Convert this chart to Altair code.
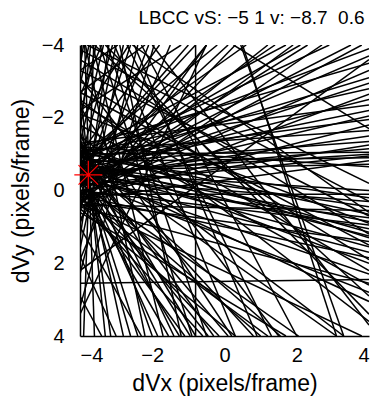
import altair as alt
import pandas as pd

# ---- Group A: lines from the left edge (x=-4) to the right edge (x=4) ----
A_left_y = [-0.9, -0.3, -1.2, 0.1, -0.7, -0.4, -1.0, 0.3, -0.5, -1.3, -0.6, -0.2,
            -0.9, 0.2, -1.1, -0.35, -0.75, 0.0, -0.45, -1.0, -0.5, -0.15, -0.8, 0.25,
            -0.55, -1.2, -0.5, 0.1, -0.9, -0.3, -0.7, 0.4, -1.05, -0.2, -0.65, 0.0,
            -0.5, -1.1, -0.8, 0.3, -0.6, -0.35, 0.15, -0.95, -0.4, 0.45, -0.3, -0.6]
A_right_y = [-3.9, -3.7, -3.5, -3.3, -3.1, -2.95, -2.8, -2.65, -2.5, -2.35, -2.2, -2.05,
             -1.95, -1.8, -1.65, -1.5, -1.35, -1.25, -1.15, -1.05, -1.0, -0.95, -0.9, -0.82,
             -0.72, -0.65, 0.0, 0.1, 0.2, 0.3, 0.45, 0.55, 0.65, 0.75, 0.85, 0.95,
             1.05, 1.15, 1.25, 1.4, 1.55, 1.7, 1.85, 2.0, 2.3, 2.55, 2.8, 3.05]

# ---- Group B: from the left edge up to the top edge (y=-4) ----
B_left_y = [-0.6, 0.2, -0.9, -0.27, 0.4, -0.75, 0.1, -0.38, -1.0, 0.3, -0.55,
            -0.10, 0.5, -0.8, -0.2, 0.15]
B_top_x = [-0.8, -0.5, -0.2, 0.1, 0.3, 0.6, 1.2, 1.4, 1.7, 1.9, 2.1, 2.3, 2.7, 2.9, 3.5, 3.8]

# ---- Group C: from the left/top edge down to the bottom edge (y=4) ----
C_start_x = [-3.62, -3.87] + [-4] * 27
C_start_y = [-4, -4, -2.84, -2.1, -1.43, -0.9, -0.98, -1.6, -0.7, -0.2, -1.4, -0.5,
             0.1, -0.9, -1.3, 0.3, -0.4, -1.1, 0.0, -0.79, 0.5, -1.2, -0.3, 0.2,
             -0.83, 0.6, -0.2, -1.0, 0.35]
C_bottom_x = [-3.9, -3.6, -3.3, -3.15, -2.8, -2.6, -2.4, -2.0, -1.85, -1.55, -1.4, -1.25,
              -1.1, -0.95, -0.8, -0.6, -0.45, -0.3, -0.15, 0.1, 0.3, 0.8, 1.0, 1.2, 1.55,
              1.7, 2.05, 3.1, 3.8]

# ---- Group D: other lines, given by both end points ----
D_x1 = [-3.9, -3.75, -3.55, -3.35, -3.2, -3.0, -2.8, -2.6, -2.4, -2.1, -1.95, -1.5,
        -3.85, -3.65, -3.45, -3.25, -3.05, -2.9, -2.7, -2.5, -2.3,
        -4, -4, -4, -4, -4, -4, -4, -4, -4, -4, -4, -4,
        -0.8, -4, 0.5, 0.45, 0.25, -4, -4, -4, -4, -4, -4,
        -3.95, -3.7, -3.4, -3.1, -2.95, -2.65, -2.2, -1.8, -1.2, -3.6, -3.3, -2.0,
        -1.0, -0.5, -3.8, -2.55]
D_y1 = [-4, -4, -4, -4, -4, -4, -4, -4, -4, -4, -4, -4,
        -4, -4, -4, -4, -4, -4, -4, -4, -4,
        -3.87, -3.6, -3.3, -3.0, -2.7, -2.4, -2.1, -1.8, -1.5, -1.2, -3.1, -2.3,
        -4, 2.55, -4, -4, -4, 1.0, 1.8, 2.9, 2.2, -2.5, 3.4,
        -4, -4, -4, -4, -4, -4, -4, -4, -4, -4, -4, -4,
        -4, -4, -4, -4]
D_x2 = [-4, -4, -4, -4, -4, -4, -4, -4, -4, -4, -4, -4,
        -2.2, -1.7, -0.9, -0.5, 0.3, -1.2, 1.3, 0.9, 2.0,
        4, 4, 4, 4, 4, 4, 4, 4, 3.3, 4, 1.5, 0.2,
        -0.8, 4, 3.1, 3.3, 4, -2.3, -3.0, -3.4, 4, 4, -0.5,
        -4, -4, -4, -4, -4, -4, -4, -4, -4, 4, 4, 4,
        -4, -4, 4, 4]
D_y2 = [-3.4, -2.9, -2.0, -1.3, 1.3, 0.6, 1.6, 0.2, 2.3, 0.9, 3.2, 1.9,
        4, 4, 4, 4, 4, 4, 4, 4, 4,
        0.3, 1.2, 0.7, 1.9, 1.5, 2.2, 0.9, 2.6, 4, 1.3, 4, 4,
        4, 2.45, 4, 4, -1.7, 4, 4, 4, -3.6, 3.6, -4,
        -3.0, -1.6, -2.6, -0.8, -3.3, -1.9, -2.7, -1.0, -2.2, 2.9, 3.4, 3.7,
        -0.6, 0.8, -0.2, 0.6]

# star marker (estimated solution)
star_x = [-3.77]
star_y = [-0.43]

x1 = [-4] * len(A_left_y) + [-4] * len(B_left_y) + C_start_x + D_x1
y1 = A_left_y + B_left_y + C_start_y + D_y1
x2 = [4] * len(A_right_y) + B_top_x + C_bottom_x + D_x2
y2 = A_right_y + [-4] * len(B_top_x) + [4] * len(C_bottom_x) + D_y2

df = pd.DataFrame({"x1": x1, "y1": y1, "x2": x2, "y2": y2})
star_df = pd.DataFrame({"x": star_x, "y": star_y})

FONT = "Liberation Sans"
ticks = [-4, -2, 0, 2, 4]

xscale = alt.Scale(domain=[-4, 4], nice=False, zero=False)
yscale = alt.Scale(domain=[-4, 4], nice=False, zero=False, reverse=True)

lines = alt.Chart(df).mark_rule(color="black", strokeWidth=1.5, clip=True).encode(
    x=alt.X("x1:Q", scale=xscale,
            axis=alt.Axis(values=ticks, title="dVx (pixels/frame)", grid=False,
                          ticks=False, labelPadding=9, titlePadding=7,
                          domainColor="black", domainWidth=1.5)),
    y=alt.Y("y1:Q", scale=yscale,
            axis=alt.Axis(values=ticks, title="dVy (pixels/frame)", grid=False,
                          ticks=False, labelPadding=16, titlePadding=8,
                          domainColor="black", domainWidth=1.5)),
    x2="x2:Q",
    y2="y2:Q",
)

star_path = ("M -1 0 L 1 0 M 0 -1 L 0 1 M -0.7 -0.7 L 0.7 0.7 M -0.7 0.7 L 0.7 -0.7")
star = alt.Chart(star_df).mark_point(
    shape=star_path, size=784, stroke="red", strokeWidth=1.2, filled=False, opacity=1
).encode(x=alt.X("x:Q", scale=xscale), y=alt.Y("y:Q", scale=yscale))

chart = alt.layer(lines, star).properties(
    width=289, height=291,
    title=alt.TitleParams("LBCC vS: \u22125 1 v: \u22128.7\u00a0\u00a00.6", fontSize=19,
                          font=FONT, fontWeight="normal", color="black",
                          anchor="middle", dx=27, offset=7),
    autosize=alt.AutoSizeParams(type="none"),
    padding={"left": 80, "top": 45, "right": 5, "bottom": 64},
    background="white",
).configure_view(stroke=None).configure_axis(
    labelFont=FONT, labelFontSize=20, labelColor="black",
    titleFont=FONT, titleFontSize=23, titleColor="black", titleFontWeight="normal",
)

chart.save("out.html", embed_options={"renderer": "svg", "actions": False})
